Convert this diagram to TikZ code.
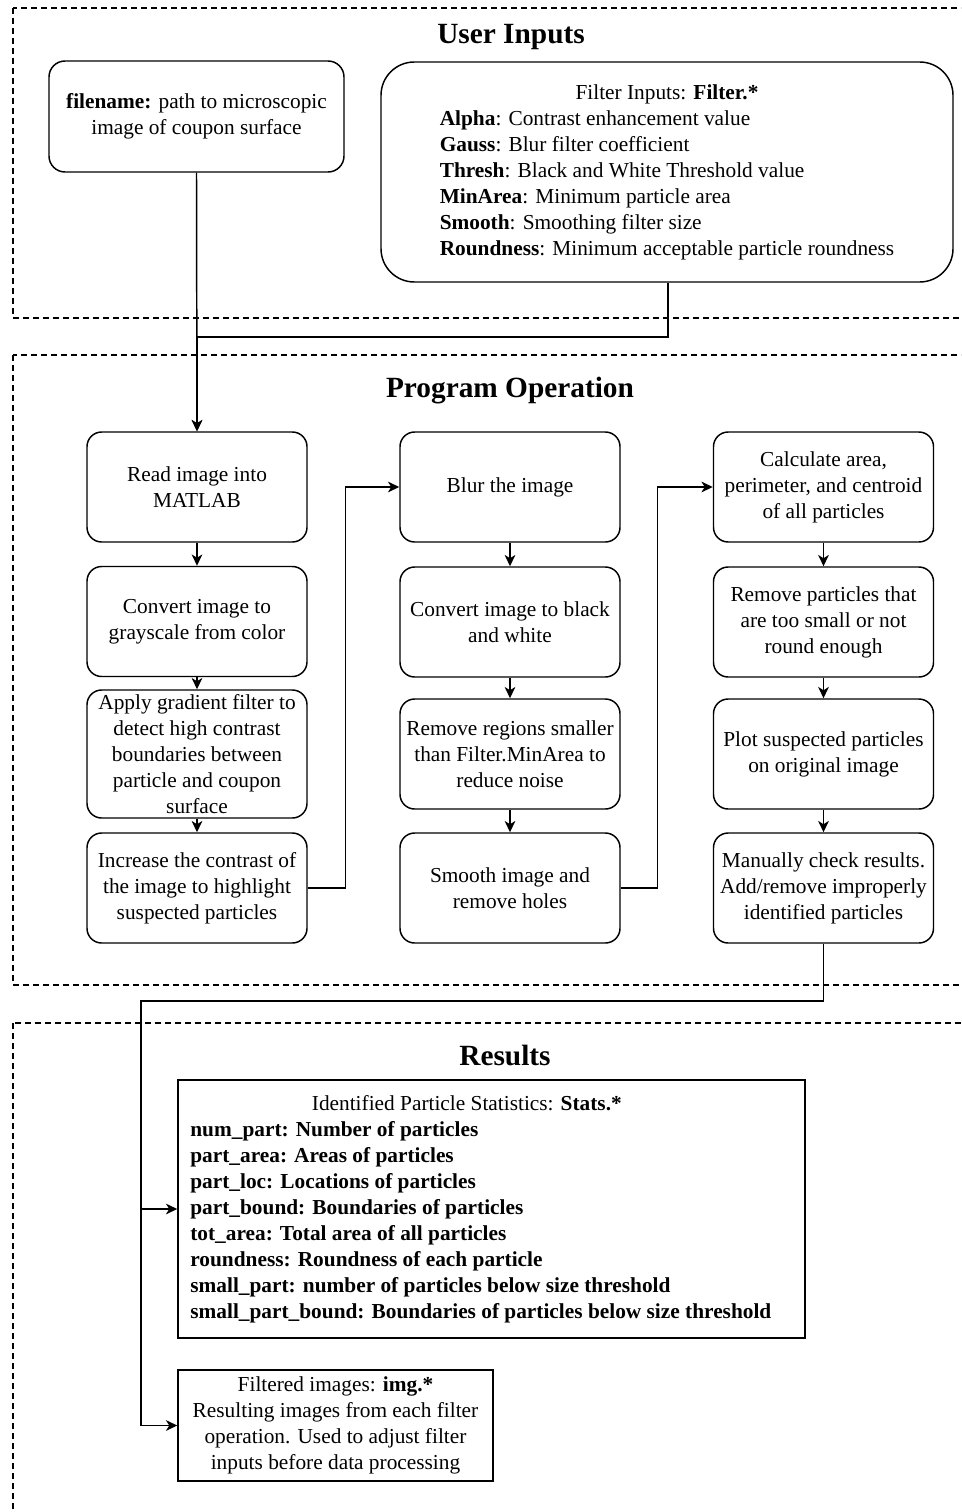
\documentclass[tikz,border=0pt]{standalone}
\usepackage{fontspec}
\setmainfont{Liberation Serif}
\newfontfamily\diagfont{Liberation Serif}
\usetikzlibrary{arrows.meta}
\begin{document}
\begin{tikzpicture}[x=0.75pt,y=-0.75pt,
  txt/.style={font=\diagfont\fontsize{16}{19.5}\selectfont},
  ttl/.style={font=\diagfont\fontsize{22}{26}\selectfont\bfseries},
  frame/.style={draw,line width=0.8pt,dash pattern=on 4.5pt off 3pt},
  proc/.style={draw,line width=1.1pt,rounded corners=11pt,minimum width=165pt,minimum height=82.5pt,inner sep=0pt,align=center,txt},
  sqbox/.style={draw,line width=1.1pt,inner sep=0pt,align=center,txt},
  arr/.style={line width=1.1pt,-{Stealth[length=8.5pt,width=8pt,inset=2.5pt]}},
  conn/.style={line width=1.1pt}
]
\clip (0,0) rectangle (961,1512);
% section frames
\draw[frame] (13,8) rectangle (1000,318);
\draw[frame] (13,355) rectangle (1000,985);
\draw[frame] (13,1023) rectangle (1000,1540);
% titles
\node[ttl] (t1) at (511,37) {User Inputs};
\node[ttl] (t2) at (510,391) {Program Operation};
\node[ttl] (t3) at (505,1055) {Results};
% user inputs
\node[proc,rounded corners=12pt,minimum width=221.25pt,minimum height=83.25pt] (fname) at (196.5,116.5)
  {\textbf{filename:} path to microscopic\\image of coupon surface};
\node[proc,rounded corners=25pt,minimum width=429pt,minimum height=165pt] (filt) at (667,172)
  {\begin{tabular}{@{}l@{}}\multicolumn{1}{c}{Filter Inputs: \textbf{Filter.*}}\\
  \textbf{Alpha}: Contrast enhancement value\\
  \textbf{Gauss}: Blur filter coefficient\\
  \textbf{Thresh}: Black and White Threshold value\\
  \textbf{MinArea}: Minimum particle area\\
  \textbf{Smooth}: Smoothing filter size\\
  \textbf{Roundness}: Minimum acceptable particle roundness\end{tabular}};
% column 1
\node[proc] (read) at (197,487) {Read image into\\MATLAB};
\node[proc] (gray) at (197,621.5) {Convert image to\\grayscale from color};
\node[proc,minimum height=96pt] (grad) at (197,754) {Apply gradient filter to\\detect high contrast\\boundaries between\\particle and coupon\\surface};
\node[proc] (incr) at (197,888) {Increase the contrast of\\the image to highlight\\suspected particles};
% column 2
\node[proc] (blur) at (510,487) {Blur the image};
\node[proc] (bw) at (510,622) {Convert image to black\\and white};
\node[proc] (rem) at (510,754) {Remove regions smaller\\than Filter.MinArea to\\reduce noise};
\node[proc] (smooth) at (510,888) {Smooth image and\\remove holes};
% column 3
\node[proc] (calc) at (823.5,487) {Calculate area,\\perimeter, and centroid\\of all particles};
\node[proc] (remp) at (823.5,622) {Remove particles that\\are too small or not\\round enough};
\node[proc] (plot) at (823.5,754) {Plot suspected particles\\on original image};
\node[proc] (man) at (823.5,888) {Manually check results.\\Add/remove improperly\\identified particles};
% results
\node[sqbox,minimum width=470.25pt,minimum height=193.5pt] (stats) at (491.5,1209)
  {\begin{tabular}{@{}l@{}}\multicolumn{1}{c}{Identified Particle Statistics: \textbf{Stats.*}\hspace*{21pt}}\\
  \textbf{num\_part: Number of particles}\\
  \textbf{part\_area: Areas of particles}\\
  \textbf{part\_loc: Locations of particles}\\
  \textbf{part\_bound: Boundaries of particles}\\
  \textbf{tot\_area: Total area of all particles}\\
  \textbf{roundness: Roundness of each particle}\\
  \textbf{small\_part: number of particles below size threshold}\\
  \textbf{small\_part\_bound: Boundaries of particles below size threshold}\end{tabular}\hspace*{16pt}};
\node[sqbox,minimum width=236.25pt,minimum height=83.25pt] (fimg) at (335.5,1425.5)
  {Filtered images: \textbf{img.*}\\Resulting images from each filter\\operation. Used to adjust filter\\inputs before data processing};
% connectors
\coordinate (j1) at (668,337);
\coordinate (j2) at (141,1001);
\draw[arr] (fname.south) -- (read.north);
\draw[arr] (filt.south -| j1) -- (j1) -| (read.north);
\draw[arr] (read) -- (gray);
\draw[arr] (gray) -- (grad);
\draw[arr] (grad) -- (incr);
\draw[arr] (incr.east) -- ++(38,0) |- (blur.west);
\draw[arr] (blur) -- (bw);
\draw[arr] (bw) -- (rem);
\draw[arr] (rem) -- (smooth);
\draw[arr] (smooth.east) -- ++(37,0) |- (calc.west);
\draw[arr] (calc) -- (remp);
\draw[arr] (remp) -- (plot);
\draw[arr] (plot) -- (man);
\draw[arr] (man.south) |- (j2) |- (stats.west);
\draw[arr] (man.south) |- (j2) |- (fimg.west);
\end{tikzpicture}
\end{document}
